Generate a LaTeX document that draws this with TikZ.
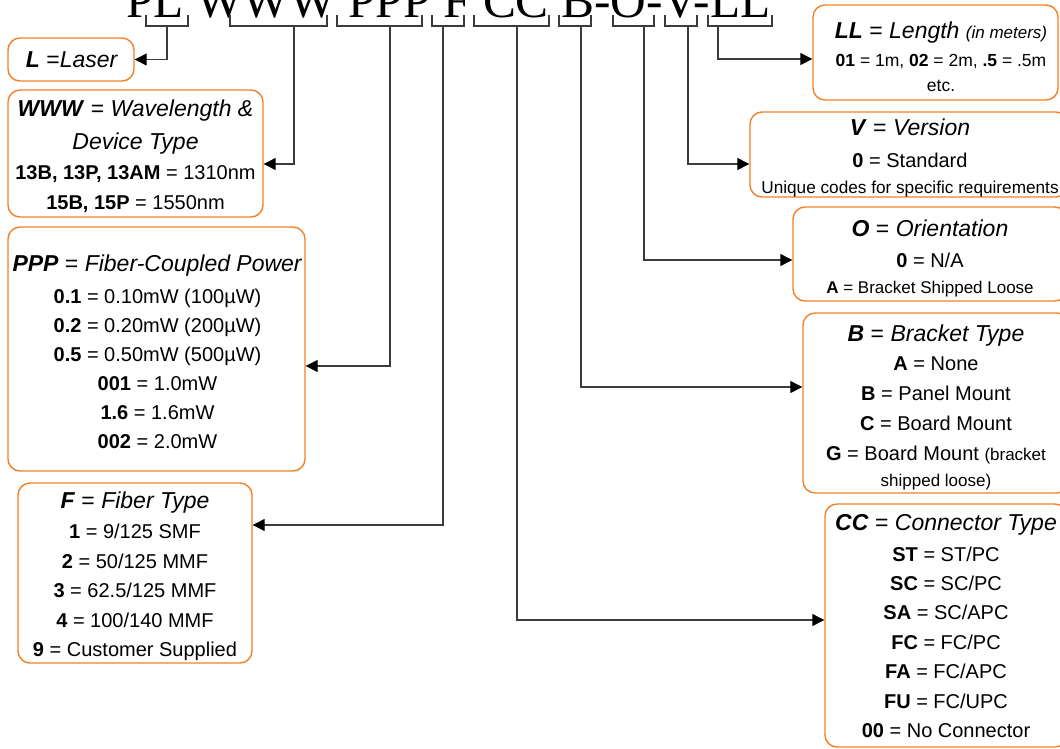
\documentclass[tikz,border=0pt]{standalone}
\usepackage{fontspec}
\setmainfont{Liberation Sans}
\newfontfamily\titlefont{Liberation Serif}
\usetikzlibrary{arrows.meta}
\definecolor{boxorange}{RGB}{245,128,40}
\definecolor{linegray}{RGB}{60,60,60}
\newcommand\Hsz{\fontsize{23}{28}\selectfont}
\newcommand\Ssz{\fontsize{17}{20}\selectfont}
\newcommand\BI[1]{\textbf{\textit{#1}}}
\begin{document}
\begin{tikzpicture}[x=1pt,y=-1pt,
  kbox/.style={draw=boxorange,line width=1.4pt,rounded corners=12pt,inner sep=0pt},
  txt/.style={align=center,inner sep=0pt},
  brk/.style={draw=linegray,line width=1.3pt},
  conn/.style={draw=linegray,line width=1.3pt,-{Triangle[length=12pt,width=12pt,color=black]}}]
\useasboundingbox (0,0) rectangle (1060,748);

% title
\node[anchor=base west,inner sep=0pt,font=\titlefont\fontsize{49.4}{50}\selectfont] (title) at (126,17.5) {PL WWW PPP F CC B-O-V-LL};

% brackets
\draw[brk] (146,15) -- (146,26) -- (188,26) -- (188,15);
\draw[brk] (230,15) -- (230,26) -- (327,26) -- (327,15);
\draw[brk] (337,15) -- (337,26) -- (422,26) -- (422,15);
\draw[brk] (432,15) -- (432,26) -- (464,26) -- (464,15);
\draw[brk] (474,15) -- (474,26) -- (549,26) -- (549,15);
\draw[brk] (559,15) -- (559,26) -- (591,26) -- (591,15);
\draw[brk] (613,15) -- (613,26) -- (654,26) -- (654,15);
\draw[brk] (665,15) -- (665,26) -- (697,26) -- (697,15);
\draw[brk] (708,15) -- (708,26) -- (772,26) -- (772,15);
\coordinate (sPL) at (167,26);
\coordinate (sW) at (294,26);
\coordinate (sP) at (390,26);
\coordinate (sF) at (443,26);
\coordinate (sC) at (517,26);
\coordinate (sB) at (581,26);
\coordinate (sO) at (644,26);
\coordinate (sV) at (688,26);
\coordinate (sLL) at (718,26);

% boxes
\node[kbox,minimum width=126pt,minimum height=43pt] (boxL) at (71,59.5) {};
\node[kbox,minimum width=255pt,minimum height=127pt] (boxW) at (135.5,153.5) {};
\node[kbox,minimum width=297pt,minimum height=244pt] (boxP) at (156.5,349) {};
\node[kbox,minimum width=234pt,minimum height=180pt] (boxF) at (135,573) {};
\node[kbox,minimum width=245pt,minimum height=95pt] (boxLL) at (935.5,52.5) {};
\node[kbox,minimum width=318pt,minimum height=85pt] (boxV) at (909,154.5) {};
\node[kbox,minimum width=274pt,minimum height=94pt] (boxO) at (930,254) {};
\node[kbox,minimum width=266pt,minimum height=180pt] (boxB) at (936,403) {};
\node[kbox,minimum width=242pt,minimum height=243pt] (boxC) at (946,625.5) {};

% texts
\node[txt,font=\Hsz] (tL) at (72,60) {\BI{L} =\textit{Laser}};

\node[txt,font=\fontsize{20}{30}\selectfont] (tW) at (135.5,156.7) {%
{\Hsz\BI{WWW} = \textit{Wavelength \&}}\\[3pt]
{\Hsz\textit{Device Type}}\\
\textbf{13B, 13P, 13AM} = 1310nm\\
\textbf{15B, 15P} = 1550nm};

\node[txt,font=\fontsize{20}{29}\selectfont] (tP) at (157.5,351.3) {%
{\Hsz\BI{PPP} = \textit{Fiber-Coupled Power}}\\[3pt]
\textbf{0.1} = 0.10mW (100µW)\\
\textbf{0.2} = 0.20mW (200µW)\\
\textbf{0.5} = 0.50mW (500µW)\\
\textbf{001} = 1.0mW\\
\textbf{1.6} = 1.6mW\\
\textbf{002} = 2.0mW};

\node[txt,font=\fontsize{20}{29.4}\selectfont] (tF) at (135,576.4) {%
{\Hsz\BI{F} = \textit{Fiber Type}}\\[0.6pt]
\textbf{1} = 9/125 SMF\\
\textbf{2} = 50/125 MMF\\
\textbf{3} = 62.5/125 MMF\\
\textbf{4} = 100/140 MMF\\
\textbf{9} = Customer Supplied};

\node[txt,font=\fontsize{17.5}{25}\selectfont] (tLL) at (941,56.4) {%
{\Hsz\BI{LL} = \textit{Length} {\Ssz\textit{(in meters)}}}\\[3.1pt]
\textbf{01} = 1m, \textbf{02} = 2m, \textbf{.5} = .5m\\
etc.};

\node[txt,font=\fontsize{20}{26}\selectfont] (tV) at (910,158) {%
{\Hsz\BI{V} = \textit{Version}}\\[5.2pt]
\textbf{0} = Standard\\
{\fontsize{17.2}{20}\selectfont Unique codes for specific requirements}};

\node[txt,font=\fontsize{20}{26}\selectfont] (tO) at (930,258) {%
{\Hsz\BI{O} = \textit{Orientation}}\\[5pt]
\textbf{0} = N/A\\
{\Ssz\textbf{A} = Bracket Shipped Loose}};

\node[txt,font=\fontsize{20}{30}\selectfont] (tB) at (936,407) {%
{\Hsz\BI{B} = \textit{Bracket Type}}\\[-1pt]
\textbf{A} = None\\
\textbf{B} = Panel Mount\\
\textbf{C} = Board Mount\\
\textbf{G} = Board Mount {\Ssz(bracket}\\[-4pt]
{\Ssz shipped loose)}};

\node[txt,font=\fontsize{20}{29.4}\selectfont] (tC) at (946,625.8) {%
{\Hsz\BI{CC} = \textit{Connector Type}}\\[1.6pt]
\textbf{ST} = ST/PC\\
\textbf{SC} = SC/PC\\
\textbf{SA} = SC/APC\\
\textbf{FC} = FC/PC\\
\textbf{FA} = FC/APC\\
\textbf{FU} = FC/UPC\\
\textbf{00} = No Connector};

% connectors
\draw[conn] (sPL) |- (boxL.east);
\draw[conn] (sW) |- ([yshift=-10.5pt]boxW.east);
\draw[conn] (sP) |- ([yshift=-17pt]boxP.east);
\draw[conn] (sF) |- ([yshift=48pt]boxF.east);
\draw[conn] (sC) |- ([yshift=5.5pt]boxC.west);
\draw[conn] (sB) |- ([yshift=16pt]boxB.west);
\draw[conn] (sO) |- ([yshift=-6pt]boxO.west);
\draw[conn] (sV) |- ([yshift=-9.5pt]boxV.west);
\draw[conn] (sLL) |- ([yshift=-6.5pt]boxLL.west);
\end{tikzpicture}
\end{document}
